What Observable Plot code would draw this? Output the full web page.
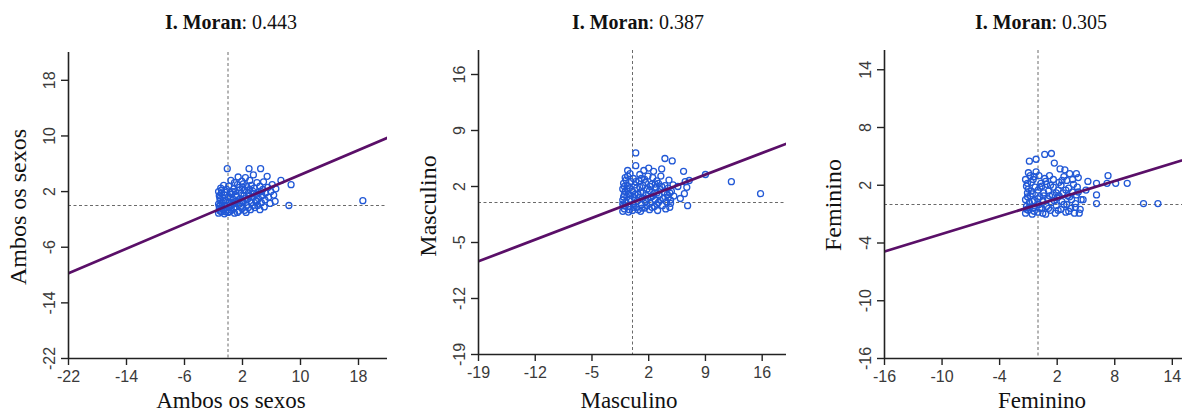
<!DOCTYPE html>
<html><head><meta charset="utf-8">
<script src="https://cdn.jsdelivr.net/npm/d3@7"></script>
<script src="https://cdn.jsdelivr.net/npm/@observablehq/plot@0.6"></script>
<style>
html,body{margin:0;padding:0;background:#fff;overflow:hidden;width:1182px;height:419px;}
#wrap{position:relative;width:1182px;height:419px;overflow:hidden;}
.panel{position:absolute;top:0;}
.title{position:absolute;top:11px;font-family:"Liberation Serif","Times New Roman",serif;font-size:20px;line-height:22px;color:#111;white-space:nowrap;transform:translateX(-50%);}
.xlab{position:absolute;top:389px;font-family:"Liberation Serif","Times New Roman",serif;font-size:23px;line-height:24px;color:#111;white-space:nowrap;transform:translateX(-50%);}
.ylab{position:absolute;font-family:"Liberation Serif","Times New Roman",serif;font-size:24px;line-height:26px;color:#111;white-space:nowrap;transform:translate(-50%,-50%) rotate(-90deg);}
</style>
</head><body><div id="wrap"></div>
<script>
const panelNames = ["Ambos os sexos", "Masculino", "Feminino"];
const moranValues = [0.443, 0.387, 0.305];
const domains = [[-22, 22], [-19, 19], [-16, 16]];
const ticks1 = [-22, -14, -6, 2, 10, 18];
const ticks2 = [-19, -12, -5, 2, 9, 16];
const ticks3 = [-16, -10, -4, 2, 8, 14];

const ambosPts = [
[-1.3,-1.1],[-1.2,-0.5],[-1.3,0.2],[-1.1,0.8],[-1.2,1.4],[-1.3,2.0],[-1.0,2.5],[-1.2,-0.1],[-0.9,-0.9],[-0.8,0.4],
[-0.7,1.1],[-0.9,1.8],[-0.6,2.9],[-0.8,-0.3],[-0.5,-1.2],[-0.4,0.0],[-0.3,0.7],[-0.5,1.5],[-0.2,2.3],[-0.1,5.3],
[0.0,-1.0],[0.1,-0.3],[0.2,0.5],[0.0,1.2],[0.3,1.9],[0.1,2.8],[0.4,3.6],[0.5,-0.7],[0.6,0.1],[0.7,0.9],
[0.5,1.6],[0.8,2.4],[0.9,3.3],[0.9,-1.1],[1.0,-0.2],[1.1,0.6],[1.2,1.3],[1.0,2.0],[1.3,3.0],[1.4,4.1],
[1.5,-0.8],[1.6,0.2],[1.7,1.0],[1.8,1.7],[1.6,2.6],[1.9,3.5],[2.0,-0.4],[2.1,0.5],[2.2,1.4],[2.3,2.2],
[2.1,3.1],[2.4,4.0],[2.5,-1.0],[2.6,0.0],[2.7,0.9],[2.8,1.8],[2.6,2.7],[2.9,5.3],[3.0,3.6],[3.1,-0.6],
[3.2,0.4],[3.3,1.2],[3.4,2.1],[3.2,2.9],[3.5,4.4],[3.7,-0.3],[3.8,0.7],[3.9,1.6],[3.6,2.5],[4.0,3.3],
[4.1,0.0],[4.2,1.0],[4.3,1.9],[4.4,2.8],[4.5,5.3],[4.6,0.4],[4.7,1.4],[4.8,2.3],[4.9,3.4],[5.0,-0.2],
[5.1,0.8],[5.2,1.8],[5.4,4.2],[5.5,2.6],[5.6,1.2],[5.8,0.3],[5.9,2.0],[6.1,3.0],[6.3,1.5],[6.5,0.6],
[6.6,2.4],[7.3,3.6],[8.7,3.0],[8.4,0.0],[18.6,0.7],
[-1.1,-0.8],[-1.0,0.1],[-1.1,1.1],[-0.9,2.2],[-0.6,-0.6],[-0.6,0.6],[-0.4,1.9],[-0.3,-0.9],[0.2,-0.9],[0.3,0.1],
[0.3,1.1],[0.6,2.0],[0.8,-0.4],[0.9,0.3],[1.3,-1.0],[1.4,0.8],[1.5,2.2],[1.8,-0.2],[1.9,0.7],[2.0,2.6],
[2.3,-0.7],[2.4,1.0],[2.8,-0.3],[2.9,1.3],[3.0,2.3],[3.5,0.0],[3.5,1.7],[4.0,0.6],[4.4,-0.6],[4.6,2.0]
];
const masculinoPts = [
[-1.2,-1.1],[-1.1,-0.4],[-1.2,0.3],[-1.0,1.0],[-1.2,1.7],[-1.1,2.4],[-0.9,3.1],[-1.0,-0.8],[-0.8,0.0],[-0.7,0.7],
[-0.9,1.4],[-0.6,2.1],[-0.8,2.8],[-0.5,-1.2],[-0.4,-0.5],[-0.3,0.4],[-0.5,1.1],[-0.4,1.8],[-0.2,2.6],[-0.3,3.6],[-0.6,4.0],
[0.0,-1.0],[0.1,-0.2],[0.2,0.6],[0.0,1.4],[0.3,2.2],[0.1,3.0],[0.4,4.6],[0.4,6.2],[0.5,-0.6],[0.6,0.2],
[0.7,1.0],[0.5,1.8],[0.8,2.7],[0.9,3.5],[1.0,-1.1],[1.1,-0.3],[1.2,0.5],[1.0,1.3],[1.3,2.1],[1.1,3.0],[1.4,4.0],[1.5,-0.7],
[1.6,0.1],[1.7,0.9],[1.8,1.7],[1.6,2.5],[1.9,3.3],[2.0,4.3],[2.1,-0.9],[2.2,-0.1],[2.3,0.7],[2.1,1.5],
[2.4,2.3],[2.5,3.1],[2.6,3.9],[2.7,-0.5],[2.8,0.3],[2.6,1.1],[2.9,1.9],[3.0,2.7],[3.1,-1.0],[3.2,0.0],
[3.3,0.9],[3.4,1.6],[3.2,2.4],[3.5,3.3],[3.6,4.2],[3.7,-0.4],[3.8,0.5],[3.9,1.3],[4.0,2.1],[4.0,5.5],
[4.2,0.1],[4.3,1.0],[4.4,1.8],[4.5,2.8],[4.6,-0.6],[4.7,0.3],[4.7,-0.1],[4.8,1.4],[4.9,5.2],[5.0,2.2],[5.1,0.8],
[5.6,2.0],[5.9,0.5],[6.3,3.9],[6.4,1.1],[6.5,2.6],[6.7,1.9],[6.8,-0.4],[7.0,2.75],[9.0,3.5],[12.2,2.6],[15.8,1.1],
[-1.2,-0.2],[-1.1,0.7],[-1.0,2.0],[-0.9,-0.4],[-0.7,1.7],[-0.6,3.3],[-0.4,-0.9],[-0.2,0.9],[0.2,-0.6],[0.3,1.0],
[0.4,2.6],[0.7,-0.9],[0.8,0.6],[0.9,1.9],[1.2,-0.7],[1.3,1.2],[1.5,2.9],[1.8,-0.4],[1.9,0.5],[2.2,2.0],
[2.4,-0.6],[2.5,0.8],[2.8,2.3],[3.0,-0.2],[3.0,1.2],[3.4,0.3],[3.6,2.0],[4.1,-0.8],[4.4,0.6],[4.6,1.2]
];
const femininoPts = [
[-1.3,-0.9],[-1.2,-0.2],[-1.3,0.5],[-1.1,1.2],[-1.2,1.9],[-1.3,2.6],[-1.0,3.3],[-0.9,4.5],[-1.0,-0.6],[-0.9,0.2],
[-0.8,0.9],[-1.0,1.6],[-0.7,2.3],[-0.8,3.0],[-0.6,-1.0],[-0.5,-0.3],[-0.4,0.4],[-0.6,1.1],[-0.3,1.8],[-0.5,2.6],
[-0.2,3.4],[-0.2,4.7],[0.0,-0.8],[0.1,0.0],[0.2,0.8],[0.0,1.5],[0.3,2.2],[0.1,3.0],[0.4,-0.4],[0.5,0.4],
[0.6,1.2],[0.4,1.9],[0.7,2.7],[0.7,5.2],[0.8,-1.0],[0.9,-0.2],[1.0,0.6],[1.1,1.4],[0.9,2.1],[1.2,3.0],
[1.3,-0.6],[1.4,5.3],[1.4,0.2],[1.5,1.0],[1.6,1.8],[1.7,4.3],[1.6,2.6],[1.8,-0.9],[1.9,-0.1],[2.0,0.7],
[2.1,1.5],[2.2,2.3],[2.3,3.7],[2.4,-0.5],[2.5,0.3],[2.6,1.2],[2.4,2.0],[2.7,2.9],[2.8,3.6],[2.9,-0.8],
[3.0,0.0],[3.1,0.9],[3.2,1.7],[3.0,2.5],[3.3,3.2],[3.4,-0.4],[3.5,0.5],[3.6,1.3],[3.7,2.1],[3.8,-0.9],
[3.9,0.1],[4.0,3.2],[4.0,1.0],[4.1,1.8],[4.2,2.8],[4.4,-0.5],[4.5,0.5],[4.7,0.5],
[5.2,2.4],[5.0,1.5],[6.1,2.2],[6.1,1.0],[6.1,0.1],[7.2,2.2],[7.3,3.0],[8.1,2.2],[9.3,2.2],[11.0,0.1],[12.5,0.1],
[-1.2,-0.5],[-1.1,0.8],[-1.1,2.2],[-0.9,-0.3],[-0.7,1.4],[-0.6,0.3],[-0.4,-0.7],[-0.4,2.9],[0.0,0.6],[0.2,-0.4],
[0.2,1.8],[0.5,-0.9],[0.6,0.9],[0.8,2.4],[1.1,-0.4],[1.2,0.9],[1.3,2.0],[1.7,0.4],[1.9,1.2],[2.1,-0.6],
[2.2,0.9],[2.5,2.5],[2.7,0.0],[2.9,1.5],[3.2,-0.7],[3.3,0.8],[3.6,2.6],[3.9,-0.3],[4.2,1.3],[4.3,-0.9]
];

const pointSets = [ambosPts, masculinoPts, femininoPts];
const tickSets = [ticks1, ticks2, ticks3];

// layout (pixels)
const layout = [
  {left: 0,   width: 395, mL: 68, mR: 8, mT: 52, mB: 42, titleX: 231,  xlabX: 231,  ylabX: 18,  ylabY: 207},
  {left: 400, width: 395, mL: 78, mR: 9, mT: 50, mB: 46, titleX: 638,  xlabX: 629,  ylabX: 428, ylabY: 206},
  {left: 800, width: 396, mL: 84, mR: 5, mT: 50, mB: 42, titleX: 1041, xlabX: 1042, ylabX: 833, ylabY: 205}
];

const fmt = d => String(d);
const wrap = document.getElementById("wrap");
for (let i = 0; i < 3; i++) {
  const L = layout[i], dom = domains[i], ticks = tickSets[i], I = moranValues[i];
  const lineData = dom.map(x => ({x, y: I * x}));
  const svg = Plot.plot({
    width: L.width, height: 400,
    marginLeft: L.mL, marginRight: L.mR, marginTop: L.mT, marginBottom: L.mB,
    x: {domain: dom, ticks, label: null},
    y: {domain: dom, ticks, label: null},
    style: {fontFamily: "'Liberation Sans', Arial, sans-serif", fontSize: "16px", background: "transparent", overflow: "visible"},
    marks: [
      Plot.ruleX([0], {stroke: "#6a6a6a", strokeWidth: 1, strokeDasharray: "3,2.5"}),
      Plot.ruleY([0], {stroke: "#6a6a6a", strokeWidth: 1, strokeDasharray: "3,2.5"}),
      Plot.dot(pointSets[i], {x: d => d[0], y: d => d[1], r: 3, stroke: "#2158d6", strokeWidth: 1.3, fill: "none"}),
      Plot.line(lineData, {x: "x", y: "y", stroke: "#5a0f68", strokeWidth: 2.7, clip: true}),
      Plot.axisX({ticks, tickSize: 7, tickPadding: 5, tickFormat: fmt, fontSize: 16, stroke: "#222", fill: "#3a3a3a", strokeWidth: 1.4, label: null}),
      Plot.axisY({ticks, tickSize: 7, tickPadding: 7, tickRotate: -90, tickFormat: fmt, fontSize: 16, stroke: "#222", fill: "#3a3a3a", strokeWidth: 1.4, label: null}),
      Plot.ruleX([dom[0]], {stroke: "#222", strokeWidth: 1.6}),
      Plot.ruleY([dom[0]], {stroke: "#222", strokeWidth: 1.6})
    ]
  });
  svg.classList.add("panel");
  svg.style.left = L.left + "px";
  wrap.appendChild(svg);

  const t = document.createElement("div");
  t.className = "title";
  t.style.left = L.titleX + "px";
  t.innerHTML = "<b>I. Moran</b>: " + I.toFixed(3);
  wrap.appendChild(t);

  const xl = document.createElement("div");
  xl.className = "xlab";
  xl.style.left = L.xlabX + "px";
  xl.textContent = panelNames[i];
  wrap.appendChild(xl);

  const yl = document.createElement("div");
  yl.className = "ylab";
  yl.style.left = L.ylabX + "px";
  yl.style.top = L.ylabY + "px";
  yl.textContent = panelNames[i];
  wrap.appendChild(yl);
}
</script>
</body></html>
